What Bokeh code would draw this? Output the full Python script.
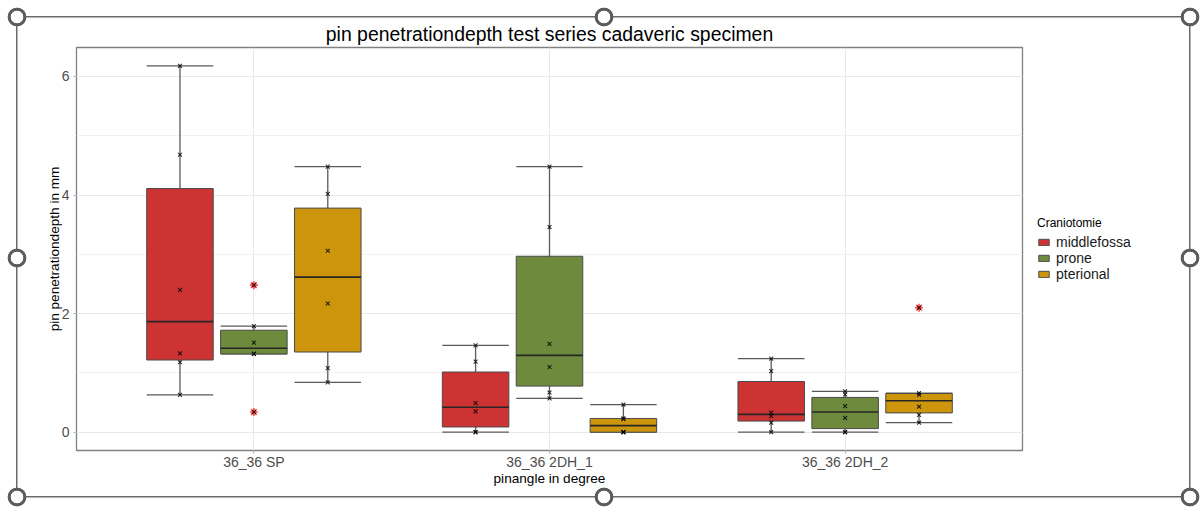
import numpy as np
from bokeh.plotting import figure
from bokeh.layouts import row
from bokeh.models import (ColumnDataSource, FactorRange, Range1d, Legend, LegendItem,
                          SingleIntervalTicker)
from bokeh.transform import dodge
from bokeh.embed import file_html
from bokeh.resources import INLINE

# ---------------- data ----------------
categories = ["36_36 SP", "36_36 2DH_1", "36_36 2DH_2"]
groups = ["middlefossa", "prone", "pterional"]
colors = ["#CD3333", "#6E8B3D", "#CD950C"]

# one list of single measurements per category, in the order of `categories`
middlefossa = [
    [6.18, 4.68, 2.40, 1.33, 1.18, 0.63],
    [1.465, 1.19, 0.49, 0.35, 0.0, 0.0],
    [1.24, 1.03, 0.33, 0.27, 0.16, 0.0],
]
prone = [
    [2.48, 1.79, 1.51, 1.32, 1.32, 0.34],
    [4.48, 3.46, 1.49, 1.10, 0.67, 0.57],
    [0.69, 0.635, 0.44, 0.24, 0.0, 0.0],
]
pterional = [
    [4.48, 4.02, 3.06, 2.17, 1.08, 0.84],
    [0.466, 0.235, 0.22, 0.0, 0.0, 0.0],
    [2.10, 0.66, 0.63, 0.43, 0.29, 0.16],
]

title_text = "pin penetrationdepth test series cadaveric specimen"
x_label = "pinangle in degree"
y_label = "pin penetrationdepth in mm"
legend_title = "Craniotomie"

series = {"middlefossa": middlefossa, "prone": prone, "pterional": pterional}

# ---------------- layout / style ----------------
FONT = "Liberation Sans"
offsets = [-0.25, 0.0, 0.25]
box_w = 0.225

all_vals = np.concatenate([np.concatenate([np.asarray(v, float) for v in series[g]]) for g in groups])
lo_all, hi_all = float(all_vals.min()), float(all_vals.max())
pad = 0.05 * (hi_all - lo_all)

W, H = 1201, 512
CW = 1024  # chart part; the legend takes the rest

p = figure(width=CW, height=H,
           x_range=FactorRange(factors=categories, range_padding=0.2 / 3),
           y_range=Range1d(lo_all - pad, hi_all + pad),
           output_backend="svg", toolbar_location=None,
           min_border_left=76, min_border_right=2, min_border_top=47, min_border_bottom=62,
           title=title_text)

p.background_fill_color = "white"
p.border_fill_alpha = 0
p.outline_line_color = "#808080"
p.outline_line_width = 1.3

p.title.text_font = FONT
p.title.text_font_size = "19.4px"
p.title.text_font_style = "normal"
p.title.text_color = "black"
p.title.align = "center"
p.title.standoff = 5

for ax in (p.xaxis[0], p.yaxis[0]):
    ax.axis_line_color = None
    ax.major_tick_line_color = "#B3B3B3"
    ax.major_tick_out = 3
    ax.major_tick_in = 0
    ax.minor_tick_line_color = None
    ax.major_label_text_font = FONT
    ax.major_label_text_font_size = "14px"
    ax.major_label_text_color = "#4D4D4D"
    ax.axis_label_text_font = FONT
    ax.axis_label_text_font_size = "13.6px"
    ax.axis_label_text_font_style = "normal"
    ax.axis_label_text_color = "black"

p.xaxis.axis_label = x_label
p.yaxis.axis_label = y_label
p.xaxis.major_label_standoff = 0
p.xaxis.axis_label_standoff = -2
p.yaxis.major_label_standoff = 3
p.yaxis.axis_label_standoff = -3
p.yaxis.ticker = SingleIntervalTicker(interval=2, num_minor_ticks=2)

p.ygrid.grid_line_color = "#E8E8E8"
p.ygrid.minor_grid_line_color = "#F1F1F1"
p.xgrid.grid_line_color = "#E8E8E8"

WHISKER = "#5A5A5A"
BOX_LINE = "#4A4A4A"
for g, off, col in zip(groups, offsets, colors):
    rows = dict(cat=[], q1=[], med=[], q3=[], lo=[], hi=[])
    pts = dict(cat=[], val=[])
    outs = dict(cat=[], val=[])
    for cat, vals in zip(categories, series[g]):
        v = np.asarray(vals, float)
        q1, med, q3 = np.percentile(v, [25, 50, 75])
        iqr = q3 - q1
        mask = (v >= q1 - 1.5 * iqr) & (v <= q3 + 1.5 * iqr)
        inside = v[mask]
        rows["cat"].append(cat)
        rows["q1"].append(q1)
        rows["med"].append(med)
        rows["q3"].append(q3)
        rows["lo"].append(inside.min())
        rows["hi"].append(inside.max())
        for val in v:
            pts["cat"].append(cat)
            pts["val"].append(val)
        for val in v[~mask]:
            outs["cat"].append(cat)
            outs["val"].append(val)
    src = ColumnDataSource(rows)
    xc = dodge("cat", off, range=p.x_range)
    xl = dodge("cat", off - box_w / 2, range=p.x_range)
    xr = dodge("cat", off + box_w / 2, range=p.x_range)
    p.segment(x0=xc, y0="lo", x1=xc, y1="hi", source=src, line_color=WHISKER, line_width=1.3)
    p.segment(x0=xl, y0="lo", x1=xr, y1="lo", source=src, line_color=WHISKER, line_width=1.3)
    p.segment(x0=xl, y0="hi", x1=xr, y1="hi", source=src, line_color=WHISKER, line_width=1.3)
    p.vbar(x=xc, width=box_w, bottom="q1", top="q3", source=src,
           fill_color=col, line_color=BOX_LINE, line_width=1)
    p.segment(x0=xl, y0="med", x1=xr, y1="med", source=src, line_color="#262626", line_width=1.6)
    p.scatter(x=dodge("cat", off, range=p.x_range), y="val", source=ColumnDataSource(outs),
              marker="asterisk", size=8, line_color="red", line_width=1.6, line_alpha=0.7)
    p.scatter(x=dodge("cat", off, range=p.x_range), y="val", source=ColumnDataSource(pts),
              marker="x", size=5.5, line_color="black", line_width=1.1, line_alpha=0.8)

# ---------------- legend (own small figure to the right of the chart) ----------------
lg = figure(width=W - CW, height=H, output_backend="svg", toolbar_location=None,
            x_axis_location=None, y_axis_location=None,
            min_border_left=0, min_border_right=0, min_border_top=0, min_border_bottom=15,
            x_range=Range1d(0, 1), y_range=Range1d(0, 1))
lg.grid.visible = False
lg.outline_line_color = None
lg.background_fill_alpha = 0
lg.border_fill_alpha = 0
items = []
for g, col in zip(groups, colors):
    # key glyph only: a box placed outside the visible range of this legend panel
    r = lg.vbar(x=[5], bottom=[5], top=[6], width=0.5,
                fill_color=col, line_color=BOX_LINE, line_width=1)
    items.append(LegendItem(label=g, renderers=[r]))
legend = Legend(items=items, title=legend_title, location="center_left", orientation="vertical",
                title_text_font=FONT, title_text_font_size="12px", title_text_font_style="normal",
                title_text_color="black", title_standoff=4,
                label_text_font=FONT, label_text_font_size="14px", label_text_color="#1A1A1A",
                glyph_width=13, glyph_height=8, label_height=16, label_standoff=6, spacing=0,
                padding=4, margin=9, border_line_alpha=0, background_fill_alpha=0)
lg.add_layout(legend, "center")

# ---------------- selection frame seen around the chart in the reference ----------------
RING = "#5C5C5C"
LINE = "#6A6A6A"
xl_, xm_, xr_ = 17, 604, 1190
yt_, ym_, yb_ = 17, 258, 497
handles = [(xl_, yt_), (xm_, yt_), (xr_, yt_), (xl_, ym_), (xr_, ym_),
           (xl_, yb_), (xm_, yb_), (xr_, yb_)]
layers = []
for cx, cy in handles:
    layers.append(f"radial-gradient(circle at {cx}px {cy}px, #ffffff 0px, #ffffff 6px, "
                  f"{RING} 6.6px, {RING} 9px, rgba(255,255,255,0) 9.7px) no-repeat")
lines = [(xl_, yt_, xr_ - xl_, 1.5), (xl_, yb_, xr_ - xl_, 1.5),
         (xl_, yt_, 1.5, yb_ - yt_), (xr_, yt_, 1.5, yb_ - yt_)]
for x, y, w, h in lines:
    layers.append(f"linear-gradient({LINE}, {LINE}) {x - 0.75 if w < 2 else x}px "
                  f"{y - 0.75 if h < 2 else y}px / {w}px {h}px no-repeat")
layers.append("#ffffff")

layout = row(p, lg, spacing=0, styles={"background": ", ".join(layers)})

open("out.html", "w").write(file_html(layout, INLINE))
